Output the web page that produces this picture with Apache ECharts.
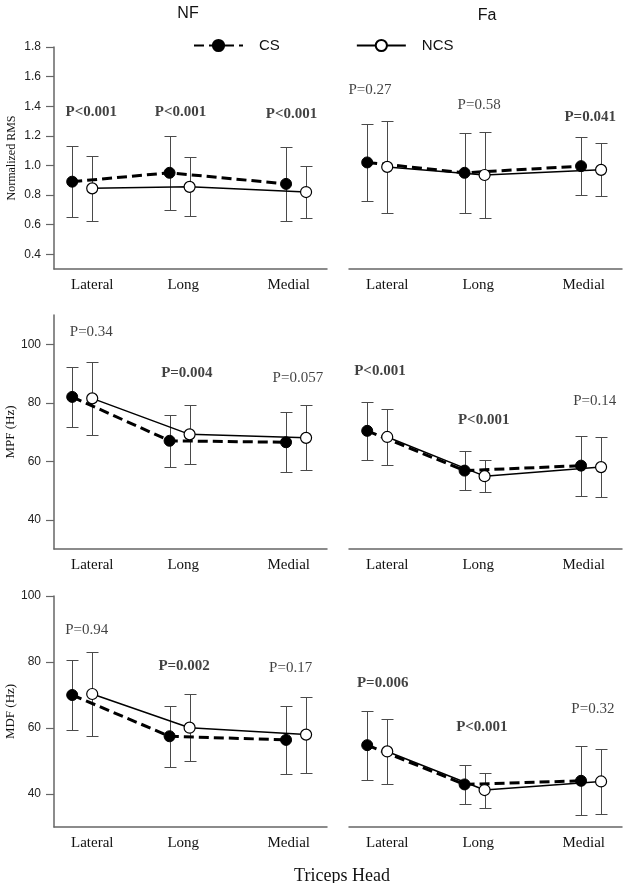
<!DOCTYPE html>
<html>
<head>
<meta charset="utf-8">
<script src="https://cdn.jsdelivr.net/npm/echarts@6/dist/echarts.min.js"></script>
<style>
html,body{margin:0;padding:0;background:#fff;}
#chart{width:623px;height:883px;}
</style>
</head>
<body>
<div id="chart"></div>
<script>
// ---------- data ----------
const categories = ['Lateral', 'Long', 'Medial'];
const conditions = ['NF', 'Fa'];
const groups = ['CS', 'NCS'];

// Normalized RMS
const rmsNF_CS_mean  = [0.89, 0.95, 0.875];
const rmsNF_CS_sd    = [0.24, 0.25, 0.25];
const rmsNF_NCS_mean = [0.845, 0.855, 0.82];
const rmsNF_NCS_sd   = [0.22, 0.20, 0.175];
const rmsFa_CS_mean  = [1.02, 0.95, 0.995];
const rmsFa_CS_sd    = [0.26, 0.27, 0.195];
const rmsFa_NCS_mean = [0.99, 0.935, 0.97];
const rmsFa_NCS_sd   = [0.31, 0.29, 0.18];

// MPF (Hz)
const mpfNF_CS_mean  = [82.0, 67.0, 66.5];
const mpfNF_CS_sd    = [10.3, 8.9, 10.2];
const mpfNF_NCS_mean = [81.5, 69.2, 68.0];
const mpfNF_NCS_sd   = [12.4, 10.0, 11.1];
const mpfFa_CS_mean  = [70.4, 56.8, 58.5];
const mpfFa_CS_sd    = [10.0, 6.6, 10.3];
const mpfFa_NCS_mean = [68.3, 54.9, 58.0];
const mpfFa_NCS_sd   = [9.6, 5.4, 10.3];

// MDF (Hz)
const mdfNF_CS_mean  = [70.0, 57.5, 56.4];
const mdfNF_CS_sd    = [10.7, 9.2, 10.3];
const mdfNF_NCS_mean = [70.3, 60.1, 58.0];
const mdfNF_NCS_sd   = [12.8, 10.2, 11.5];
const mdfFa_CS_mean  = [54.8, 42.9, 44.0];
const mdfFa_CS_sd    = [10.5, 5.9, 10.5];
const mdfFa_NCS_mean = [52.9, 41.2, 43.8];
const mdfFa_NCS_sd   = [9.8, 5.3, 9.9];

// p-values (per category)
const pRmsNF = ['P<0.001', 'P<0.001', 'P<0.001'];
const pRmsFa = ['P=0.27', 'P=0.58', 'P=0.041'];
const pMpfNF = ['P=0.34', 'P=0.004', 'P=0.057'];
const pMpfFa = ['P<0.001', 'P<0.001', 'P=0.14'];
const pMdfNF = ['P=0.94', 'P=0.002', 'P=0.17'];
const pMdfFa = ['P=0.006', 'P<0.001', 'P=0.32'];

// y-axis ticks
const rmsTicks = [0.4, 0.6, 0.8, 1.0, 1.2, 1.4, 1.6, 1.8];
const mpfTicks = [40, 60, 80, 100];
const mdfTicks = [40, 60, 80, 100];

// ---------- layout ----------
const SERIF = '"Liberation Serif", "Times New Roman", serif';
const SANS = '"Liberation Sans", Arial, sans-serif';
const catX = [0.31, 1.38, 2.66];       // category centres on x scale
const groupOffset = { CS: -0.11, NCS: 0.11 };
const labelX = [0.42, 1.42, 2.58];     // category label positions

const rows = [
  { name: 'Normalized RMS', min: 0.3, max: 1.8, ticks: rmsTicks, dec: 1, top: 47, height: 222,
    data: { NF: { CS: [rmsNF_CS_mean, rmsNF_CS_sd], NCS: [rmsNF_NCS_mean, rmsNF_NCS_sd] },
            Fa: { CS: [rmsFa_CS_mean, rmsFa_CS_sd], NCS: [rmsFa_NCS_mean, rmsFa_NCS_sd] } },
    p: { NF: pRmsNF, Fa: pRmsFa },
    pPos: { NF: [[0.41, 1.36], [1.39, 1.36], [2.61, 1.345]],
            Fa: [[0.23, 1.51], [1.43, 1.41], [2.65, 1.325]] } },
  { name: 'MPF (Hz)', min: 30, max: 110, ticks: mpfTicks, dec: 0, top: 315, height: 234,
    data: { NF: { CS: [mpfNF_CS_mean, mpfNF_CS_sd], NCS: [mpfNF_NCS_mean, mpfNF_NCS_sd] },
            Fa: { CS: [mpfFa_CS_mean, mpfFa_CS_sd], NCS: [mpfFa_NCS_mean, mpfFa_NCS_sd] } },
    p: { NF: pMpfNF, Fa: pMpfFa },
    pPos: { NF: [[0.41, 104.2], [1.46, 90.2], [2.68, 88.5]],
            Fa: [[0.34, 90.9], [1.48, 74.1], [2.70, 80.6]] } },
  { name: 'MDF (Hz)', min: 30, max: 100, ticks: mdfTicks, dec: 0, top: 596, height: 231,
    data: { NF: { CS: [mdfNF_CS_mean, mdfNF_CS_sd], NCS: [mdfNF_NCS_mean, mdfNF_NCS_sd] },
            Fa: { CS: [mdfFa_CS_mean, mdfFa_CS_sd], NCS: [mdfFa_NCS_mean, mdfFa_NCS_sd] } },
    p: { NF: pMdfNF, Fa: pMdfFa },
    pPos: { NF: [[0.36, 89.7], [1.43, 78.8], [2.60, 78.2]],
            Fa: [[0.37, 73.6], [1.46, 60.3], [2.68, 65.8]] } }
];
const cols = { NF: { left: 54, width: 273 }, Fa: { left: 349, width: 273 } };

const lineStyles = {
  CS: { color: '#000', width: 3, type: [10, 5] },
  NCS: { color: '#000', width: 1.5, type: 'solid' }
};
const markerStyles = {
  CS: { color: '#000', borderColor: '#000', borderWidth: 1 },
  NCS: { color: '#fff', borderColor: '#000', borderWidth: 1.2 }
};

function isSignificant(t) {
  if (t.indexOf('<') >= 0) return true;
  return parseFloat(t.split('=')[1]) < 0.05;
}

function renderErr(params, api) {
  const x = api.value(0), lo = api.value(1), hi = api.value(2);
  const pHi = api.coord([x, hi]), pLo = api.coord([x, lo]);
  const cx = Math.round(pHi[0]) + 0.5;
  const yh = Math.round(pHi[1]) + 0.5, yl = Math.round(pLo[1]) + 0.5;
  const hw = 6;
  const st = { stroke: '#4a4a4a', lineWidth: 1 };
  return { type: 'group', children: [
    { type: 'line', shape: { x1: cx, y1: yh, x2: cx, y2: yl }, style: st },
    { type: 'line', shape: { x1: cx - hw, y1: yh, x2: cx + hw, y2: yh }, style: st },
    { type: 'line', shape: { x1: cx - hw, y1: yl, x2: cx + hw, y2: yl }, style: st }
  ]};
}

const grid = [], xAxis = [], yAxis = [], series = [];
let idx = 0;
rows.forEach((row) => {
  conditions.forEach((cond) => {
    const c = cols[cond];
    grid.push({ left: c.left, width: c.width, top: row.top, height: row.height });
    xAxis.push({
      gridIndex: idx, type: 'value', min: 0, max: 3,
      axisLine: { show: true, onZero: false, lineStyle: { color: '#666', width: 1.5 } },
      axisTick: { show: false }, splitLine: { show: false },
      axisLabel: {
        customValues: labelX, margin: 9,
        fontFamily: SERIF, fontSize: 15, color: '#111',
        formatter: (v) => {
          let best = 0;
          labelX.forEach((lx, i) => { if (Math.abs(lx - v) < Math.abs(labelX[best] - v)) best = i; });
          return categories[best];
        }
      }
    });
    const isLeft = cond === 'NF';
    yAxis.push({
      gridIndex: idx, type: 'value', min: row.min, max: row.max,
      show: isLeft,
      name: isLeft ? row.name : '', nameLocation: 'middle', nameGap: 36,
      nameTextStyle: { fontFamily: SERIF, fontSize: row.dec ? 12 : 13, color: '#111' },
      axisLine: { show: true, onZero: false, lineStyle: { color: '#666', width: 1.5 } },
      axisTick: { show: true, inside: false, length: 8, customValues: row.ticks, lineStyle: { color: '#666', width: 1.2 } },
      splitLine: { show: false },
      axisLabel: {
        customValues: row.ticks, margin: 13,
        fontFamily: SANS, fontSize: 12, color: '#222',
        formatter: (v) => v.toFixed(row.dec)
      }
    });
    groups.forEach((g) => {
      const [mean, sd] = row.data[cond][g];
      const errData = mean.map((m, i) => [catX[i] + groupOffset[g], m - sd[i], m + sd[i]]);
      series.push({
        type: 'custom', xAxisIndex: idx, yAxisIndex: idx, renderItem: renderErr,
        data: errData, encode: { x: 0, y: [1, 2] }, silent: true, z: 1
      });
    });
    groups.forEach((g) => {
      const [mean] = row.data[cond][g];
      series.push({
        name: g, type: 'line', xAxisIndex: idx, yAxisIndex: idx,
        data: mean.map((m, i) => [catX[i] + groupOffset[g], m]),
        symbol: 'circle', symbolSize: 11, showSymbol: true,
        lineStyle: lineStyles[g], itemStyle: markerStyles[g],
        z: g === 'CS' ? 3 : 4, silent: true, animation: false
      });
    });
    series.push({
      type: 'scatter', xAxisIndex: idx, yAxisIndex: idx, symbolSize: 1,
      itemStyle: { color: 'transparent' }, silent: true, z: 5,
      data: row.p[cond].map((t, i) => ({
        value: row.pPos[cond][i], name: t,
        label: { fontWeight: isSignificant(t) ? 'bold' : 'normal' }
      })),
      label: {
        show: true, position: 'inside', formatter: (p) => p.name,
        fontFamily: SERIF, fontSize: 15, color: '#111'
      }
    });
    idx++;
  });
});

const chart = echarts.init(document.getElementById('chart'), null, { renderer: 'canvas' });
chart.setOption({
  animation: false,
  backgroundColor: '#fff',
  title: [
    { text: 'NF', left: 183, top: 1, textAlign: 'center', textStyle: { fontFamily: SANS, fontSize: 16, fontWeight: 'normal', color: '#111' } },
    { text: 'Fa', left: 482, top: 3, textAlign: 'center', textStyle: { fontFamily: SANS, fontSize: 16, fontWeight: 'normal', color: '#111' } },
    { text: 'Triceps Head', left: 337, top: 862, textAlign: 'center', textStyle: { fontFamily: SERIF, fontSize: 18, fontWeight: 'normal', color: '#111' } }
  ],
  legend: {
    data: groups, left: 188, top: 33, itemWidth: 49, itemHeight: 14, itemGap: 76,
    textStyle: { fontFamily: SANS, fontSize: 15, color: '#111', rich: { a: { padding: [0, 0, 0, 11], fontFamily: SANS, fontSize: 15, color: '#111' } } },
    formatter: (n) => '{a|' + n + '}',
    selectedMode: false
  },
  grid, xAxis, yAxis, series
});
</script>
</body>
</html>
